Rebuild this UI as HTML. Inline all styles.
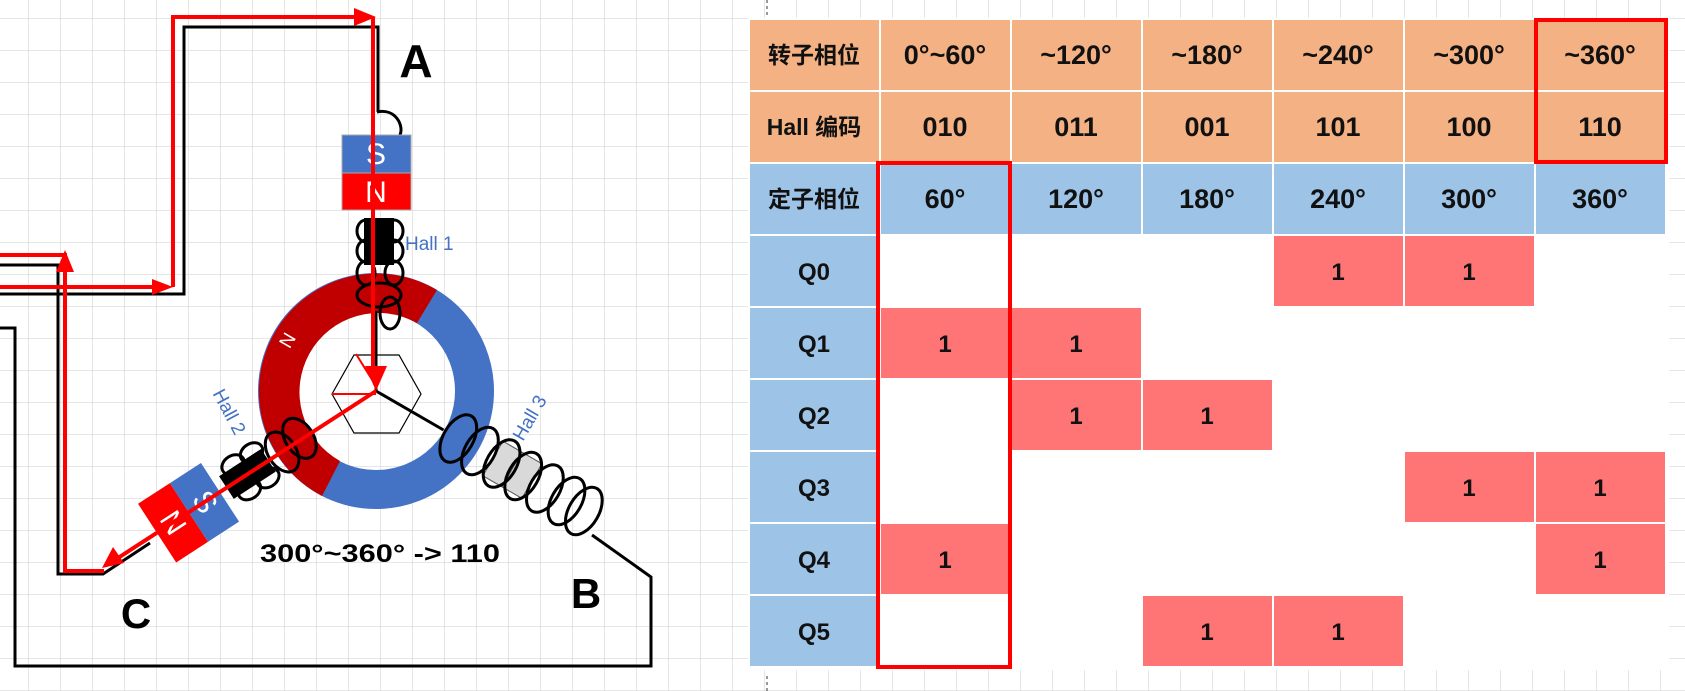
<!DOCTYPE html>
<html><head><meta charset="utf-8"><style>
html,body{margin:0;padding:0;background:#fff}
svg{display:block}
text{font-family:"Liberation Sans","Noto Sans CJK SC",sans-serif;font-weight:bold}
text.n{font-weight:normal}
</style></head><body>
<svg width="1685" height="691" viewBox="0 0 1685 691" xmlns="http://www.w3.org/2000/svg">
<defs>
<pattern id="g" patternUnits="userSpaceOnUse" x="28" y="18" width="32" height="32">
<path d="M0,0V32M0,0H32" stroke="#d6d6d6" stroke-width="1.2" fill="none"/>
</pattern>
</defs>
<rect width="1685" height="691" fill="#fff"/>
<rect width="1685" height="691" fill="url(#g)"/>
<path d="M767,0V16M767,676V691" stroke="#333" stroke-width="1" stroke-dasharray="3,3"/>

<!-- ===== TABLE ===== -->
<rect x="748" y="18" width="921" height="652" fill="#fff"/>
<g font-size="24" text-anchor="middle" fill="#111">
<g fill="#F4B183">
<rect x="750" y="20" width="129" height="70"/><rect x="881" y="20" width="129" height="70"/><rect x="1012" y="20" width="129" height="70"/><rect x="1143" y="20" width="129" height="70"/><rect x="1274" y="20" width="129" height="70"/><rect x="1405" y="20" width="129" height="70"/><rect x="1536" y="20" width="129" height="70"/>
<rect x="750" y="92" width="129" height="70"/><rect x="881" y="92" width="129" height="70"/><rect x="1012" y="92" width="129" height="70"/><rect x="1143" y="92" width="129" height="70"/><rect x="1274" y="92" width="129" height="70"/><rect x="1405" y="92" width="129" height="70"/><rect x="1536" y="92" width="129" height="70"/>
</g>
<g fill="#9DC3E6">
<rect x="750" y="164" width="129" height="70"/><rect x="881" y="164" width="129" height="70"/><rect x="1012" y="164" width="129" height="70"/><rect x="1143" y="164" width="129" height="70"/><rect x="1274" y="164" width="129" height="70"/><rect x="1405" y="164" width="129" height="70"/><rect x="1536" y="164" width="129" height="70"/>
<rect x="750" y="236" width="129" height="70"/><rect x="750" y="308" width="129" height="70"/><rect x="750" y="380" width="129" height="70"/><rect x="750" y="452" width="129" height="70"/><rect x="750" y="524" width="129" height="70"/><rect x="750" y="596" width="129" height="70"/>
</g>
<g fill="#FF7575">
<rect x="1274" y="236" width="129" height="70"/><rect x="1405" y="236" width="129" height="70"/>
<rect x="881" y="308" width="129" height="70"/><rect x="1012" y="308" width="129" height="70"/>
<rect x="1012" y="380" width="129" height="70"/><rect x="1143" y="380" width="129" height="70"/>
<rect x="1405" y="452" width="129" height="70"/><rect x="1536" y="452" width="129" height="70"/>
<rect x="881" y="524" width="129" height="70"/><rect x="1536" y="524" width="129" height="70"/>
<rect x="1143" y="596" width="129" height="70"/><rect x="1274" y="596" width="129" height="70"/>
</g>
<text x="814" y="63" font-size="23">转子相位</text>
<text x="945" y="64" font-size="27">0°~60°</text>
<text x="1076" y="64" font-size="27">~120°</text>
<text x="1207" y="64" font-size="27">~180°</text>
<text x="1338" y="64" font-size="27">~240°</text>
<text x="1469" y="64" font-size="27">~300°</text>
<text x="1600" y="64" font-size="27">~360°</text>
<text x="814" y="135" font-size="23">Hall 编码</text>
<text x="945" y="136" font-size="27">010</text>
<text x="1076" y="136" font-size="27">011</text>
<text x="1207" y="136" font-size="27">001</text>
<text x="1338" y="136" font-size="27">101</text>
<text x="1469" y="136" font-size="27">100</text>
<text x="1600" y="136" font-size="27">110</text>
<text x="814" y="207" font-size="23">定子相位</text>
<text x="945" y="208" font-size="27">60°</text>
<text x="1076" y="208" font-size="27">120°</text>
<text x="1207" y="208" font-size="27">180°</text>
<text x="1338" y="208" font-size="27">240°</text>
<text x="1469" y="208" font-size="27">300°</text>
<text x="1600" y="208" font-size="27">360°</text>
<text x="814" y="280">Q0</text><text x="814" y="352">Q1</text><text x="814" y="424">Q2</text><text x="814" y="496">Q3</text><text x="814" y="568">Q4</text><text x="814" y="640">Q5</text>
<text x="1338" y="280">1</text><text x="1469" y="280">1</text>
<text x="945" y="352">1</text><text x="1076" y="352">1</text>
<text x="1076" y="424">1</text><text x="1207" y="424">1</text>
<text x="1469" y="496">1</text><text x="1600" y="496">1</text>
<text x="945" y="568">1</text><text x="1600" y="568">1</text>
<text x="1207" y="640">1</text><text x="1338" y="640">1</text>
</g>
<rect x="878" y="163" width="132" height="504" fill="none" stroke="#FF0000" stroke-width="4"/>
<rect x="1536" y="20" width="130" height="142" fill="none" stroke="#FF0000" stroke-width="4"/>

<!-- ===== DIAGRAM ===== -->
<g fill="none" stroke="#000" stroke-width="3">
<path d="M0,294H184V27H378V112"/>
<path d="M0,265H58V574H103L150,543"/>
<path d="M0,328H15V666H651V577L592,535"/>
</g>
<circle cx="376" cy="391" r="98.5" fill="none" stroke="#4472C4" stroke-width="39"/>
<path d="M437,290 A118,118 0 1 0 322,496 L340,461 A79,79 0 1 1 417,323 Z" fill="#C00000"/>
<text class="n" x="287" y="347" font-size="19" fill="#fff" transform="rotate(-60 287 340)" text-anchor="middle">N</text>
<polygon points="332,394 354,355 399,355 421,394 399,433 354,433" fill="none" stroke="#000" stroke-width="1.2"/>
<path d="M332,394H376M356,354L376,386" stroke="#f00" stroke-width="2" fill="none"/>

<!-- top (A) -->
<g transform="translate(376,391)" fill="none" stroke="#000" stroke-width="3">
<line x1="0" y1="0" x2="0" y2="-80"/>
<path d="M1,-279 C20,-283 28,-265 24,-256"/>
<ellipse cx="-10" cy="-160" rx="9" ry="11"/>
<ellipse cx="18" cy="-160" rx="9" ry="11"/>
<ellipse cx="-10" cy="-140" rx="9" ry="11"/>
<ellipse cx="18" cy="-140" rx="9" ry="11"/>
<ellipse cx="-10" cy="-118" rx="9" ry="12"/>
<ellipse cx="18" cy="-118" rx="9" ry="12"/>
<ellipse cx="3" cy="-96" rx="22" ry="12"/>
<ellipse cx="14" cy="-78" rx="10" ry="16"/>
<rect x="-12" y="-173" width="30" height="47" fill="#000" stroke="none"/>
<rect x="-34" y="-256" width="69" height="38" fill="#4472C4" stroke="#aaa" stroke-width="1"/>
<rect x="-34" y="-218" width="69" height="37" fill="#FF0000" stroke="#aaa" stroke-width="1"/>
<text class="n" x="0" y="-227" font-size="30" fill="#fff" stroke="none" text-anchor="middle">S</text>
<text class="n" x="0" y="-189" font-size="30" fill="#fff" stroke="none" text-anchor="middle">N</text>
</g>
<text class="n" x="405" y="250" font-size="19" fill="#4472C4">Hall 1</text>

<!-- C assembly -->
<g transform="translate(376,391) rotate(-123)" fill="none" stroke="#000" stroke-width="3">
<line x1="0" y1="0" x2="0" y2="-72"/>
<ellipse cx="-14" cy="-160" rx="9" ry="12"/>
<ellipse cx="16" cy="-160" rx="9" ry="12"/>
<ellipse cx="-14" cy="-138" rx="9" ry="12"/>
<ellipse cx="16" cy="-138" rx="9" ry="12"/>
<ellipse cx="0" cy="-112" rx="22" ry="14"/>
<ellipse cx="2" cy="-90" rx="22" ry="14"/>
<rect x="-13" y="-178" width="27" height="50" fill="#000" stroke="none"/>
<rect x="-35" y="-261" width="70" height="38" fill="#FF0000" stroke="none"/>
<rect x="-35" y="-223" width="70" height="37" fill="#4472C4" stroke="none"/>
<text class="n" x="0" y="-232" font-size="30" fill="#fff" stroke="none" text-anchor="middle" transform="rotate(180 0 -242)">N</text>
<text class="n" x="0" y="-194" font-size="30" fill="#fff" stroke="none" text-anchor="middle" transform="rotate(180 0 -204)">S</text>
</g>
<text class="n" x="229" y="418" font-size="19" fill="#4472C4" text-anchor="middle" transform="rotate(62 229 412)">Hall 2</text>

<!-- B assembly -->
<g transform="translate(376,391) rotate(120)" fill="none" stroke="#000" stroke-width="3">
<line x1="0" y1="0" x2="0" y2="-78"/>
<rect x="-20" y="-180" width="40" height="45" fill="#d9d9d9" stroke="#555" stroke-width="1"/>
<line x1="-20" y1="-157" x2="20" y2="-157" stroke="#555" stroke-width="1"/>
<ellipse cx="0" cy="-95" rx="26" ry="15"/>
<ellipse cx="0" cy="-120" rx="26" ry="15"/>
<ellipse cx="0" cy="-145" rx="26" ry="15"/>
<ellipse cx="0" cy="-170" rx="26" ry="15"/>
<ellipse cx="0" cy="-195" rx="26" ry="15"/>
<ellipse cx="0" cy="-220" rx="26" ry="15"/>
<ellipse cx="0" cy="-240" rx="26" ry="15"/>
</g>
<text class="n" x="530" y="424" font-size="19" fill="#4472C4" text-anchor="middle" transform="rotate(-60 530 418)">Hall 3</text>

<!-- red current path -->
<g fill="none" stroke="#FF0000" stroke-width="4">
<path d="M0,287H158"/>
<path d="M173,287V17H358"/>
<path d="M373,17V372"/>
<path d="M0,255H65V571H104"/>
<path d="M376,391L118,558"/>
<path d="M65,270V255"/>
</g>
<g fill="#FF0000">
<polygon points="173,287 152,279 152,295"/>
<polygon points="376,17 354,8 354,26"/>
<polygon points="376,391 365,366 387,366"/>
<polygon points="65,250 56,272 74,272"/>
<polygon points="102,568 113,547 124,563"/>
</g>

<text x="416" y="77" font-size="46" text-anchor="middle" fill="#000">A</text>
<text x="136" y="628" font-size="42" text-anchor="middle" fill="#000">C</text>
<text x="586" y="608" font-size="42" text-anchor="middle" fill="#000">B</text>
<text x="260" y="562" font-size="25" fill="#000" textLength="240" lengthAdjust="spacingAndGlyphs">300°~360° -&gt; 110</text>
</svg>
</body></html>
